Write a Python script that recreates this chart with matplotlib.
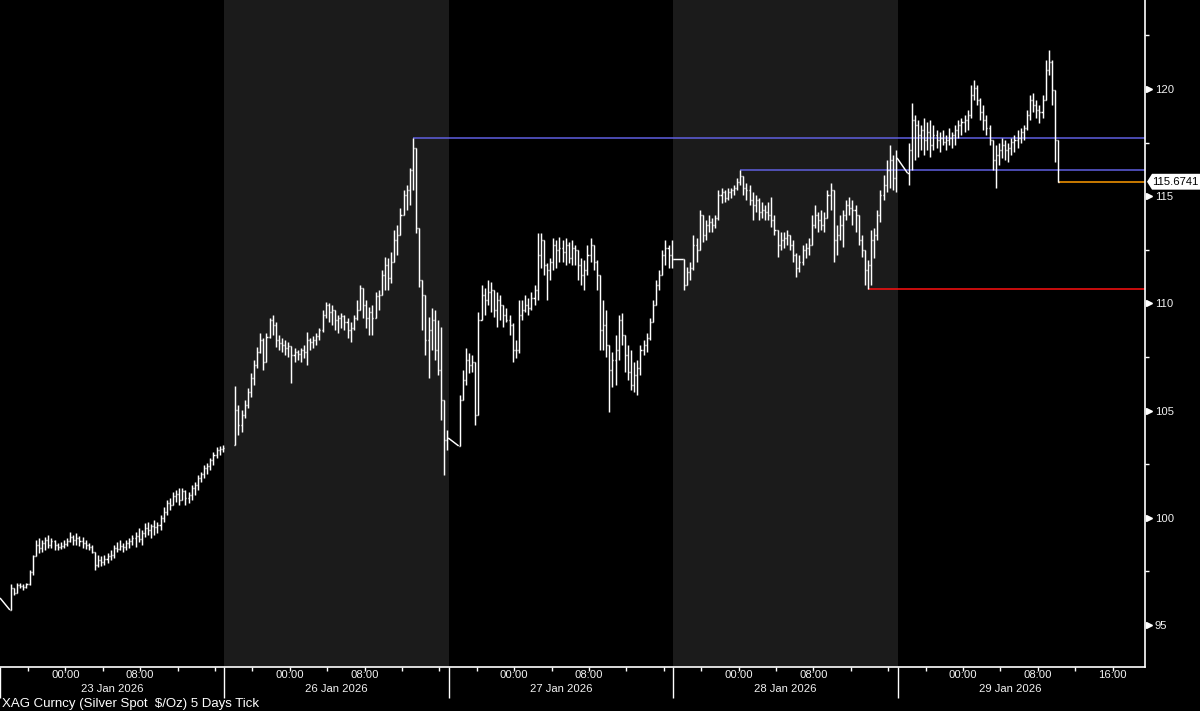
import matplotlib
matplotlib.use("Agg")
import matplotlib.pyplot as plt
from matplotlib.collections import LineCollection
from matplotlib.patches import Polygon

plt.rcParams['font.family'] = ['Liberation Sans', 'DejaVu Sans']

# 20 minute bars, each session runs 18:00 -> 17:00
dates = ['23 Jan 2026', '26 Jan 2026', '27 Jan 2026', '28 Jan 2026', '29 Jan 2026']

close_23 = [96.73, 96.49, 96.87, 96.82, 96.77, 96.91, 97.47, 98.22, 98.73, 98.59,
            98.82, 98.96, 98.73, 98.92, 98.73, 98.64, 98.68, 98.78, 98.92, 99.10,
            98.96, 99.06, 98.92, 98.82, 98.73, 98.64, 98.40, 97.80, 98.03, 97.94,
            98.08, 98.22, 98.26, 98.59, 98.54, 98.68, 98.64, 98.82, 98.92, 99.06,
            99.15, 99.01, 99.29, 99.52, 99.43, 99.62, 99.57, 99.66, 99.99, 100.27,
            100.69, 100.60, 101.02, 101.11, 100.83, 101.25, 100.92, 101.06, 101.39, 101.53,
            101.86, 102.04, 102.32, 102.42, 102.70, 102.93, 103.16, 103.21, 103.26]
high_23 = [96.91, 96.73, 96.96, 96.96, 96.91, 96.96, 97.57, 98.26, 98.96, 99.06,
           98.96, 99.10, 99.20, 99.06, 98.96, 98.82, 98.87, 98.96, 99.06, 99.34,
           99.20, 99.29, 99.15, 99.10, 98.96, 98.82, 98.73, 98.40, 98.26, 98.22,
           98.26, 98.36, 98.50, 98.73, 98.87, 98.96, 98.82, 98.96, 99.06, 99.20,
           99.34, 99.52, 99.43, 99.76, 99.80, 99.71, 99.90, 99.80, 100.13, 100.50,
           100.83, 100.92, 101.20, 101.30, 101.39, 101.39, 101.30, 101.20, 101.53, 101.67,
           102.00, 102.14, 102.46, 102.56, 102.79, 103.07, 103.30, 103.35, 103.40]
low_23 = [95.70, 96.40, 96.54, 96.73, 96.63, 96.73, 96.87, 97.33, 98.22, 98.36,
          98.40, 98.50, 98.59, 98.59, 98.50, 98.50, 98.54, 98.59, 98.68, 98.87,
          98.73, 98.73, 98.68, 98.59, 98.54, 98.50, 98.36, 97.57, 97.71, 97.75,
          97.80, 97.89, 98.03, 98.12, 98.40, 98.50, 98.40, 98.50, 98.59, 98.73,
          98.64, 98.87, 98.73, 99.10, 99.20, 99.06, 99.20, 99.29, 99.43, 99.80,
          100.13, 100.36, 100.60, 100.74, 100.60, 100.83, 100.60, 100.69, 100.83, 101.06,
          101.30, 101.67, 101.86, 102.04, 102.23, 102.46, 102.79, 102.93, 103.07]

close_26 = [105.03, 104.33, 104.79, 105.26, 105.87, 106.52, 107.13, 107.74, 108.29, 107.27,
            108.43, 109.23, 108.99, 108.29, 108.15, 108.06, 107.92, 108.01, 107.59, 107.74,
            107.64, 107.83, 107.74, 108.29, 108.20, 108.29, 108.48, 108.76, 109.46, 109.93,
            109.60, 109.69, 109.23, 109.32, 109.41, 109.13, 108.76, 108.85, 109.32, 109.69,
            110.72, 109.93, 109.32, 109.60, 109.32, 110.35, 110.39, 111.33, 111.79, 111.19,
            111.93, 112.96, 113.19, 114.12, 115.06, 115.29, 116.22, 117.25, 113.52, 111.09,
            110.39, 108.29, 108.76, 109.23, 107.83, 106.89, 105.49, 103.63, 103.72]
high_26 = [106.15, 105.26, 105.03, 105.49, 106.05, 106.75, 107.36, 107.97, 108.62, 108.39,
           108.62, 109.32, 109.46, 109.13, 108.53, 108.39, 108.29, 108.20, 107.83, 107.92,
           107.83, 107.92, 108.06, 108.67, 108.39, 108.48, 108.62, 108.85, 109.69, 110.07,
           110.02, 109.93, 109.55, 109.46, 109.55, 109.46, 109.32, 109.13, 109.46, 110.16,
           110.86, 110.72, 110.16, 109.83, 109.93, 110.53, 110.63, 111.56, 112.16, 112.12,
           112.40, 113.42, 113.66, 114.45, 115.29, 115.52, 116.31, 117.71, 116.08, 113.33,
           110.95, 110.07, 109.37, 109.79, 109.69, 109.23, 108.90, 104.56, 104.10]
low_26 = [103.40, 103.86, 104.00, 104.65, 105.12, 105.64, 106.19, 106.99, 107.69, 106.89,
          108.06, 108.39, 108.53, 107.97, 107.83, 107.74, 107.59, 107.50, 106.29, 107.27,
          107.36, 107.27, 107.45, 107.13, 107.83, 107.92, 108.06, 108.29, 108.67, 109.32,
          109.13, 108.99, 108.76, 108.62, 108.85, 108.76, 108.39, 108.20, 108.76, 109.23,
          109.93, 109.32, 108.85, 108.53, 108.53, 109.32, 109.69, 110.39, 110.63, 110.63,
          110.95, 111.93, 112.26, 113.80, 114.36, 114.36, 114.59, 115.29, 113.28, 110.77,
          108.76, 107.59, 106.52, 107.83, 107.36, 106.66, 104.56, 102.00, 103.16]

close_27 = [105.49, 106.43, 107.36, 107.13, 107.27, 104.79, 109.23, 110.39, 110.16, 110.53,
            110.63, 109.69, 110.16, 109.93, 109.46, 109.23, 108.99, 107.83, 107.83, 109.46,
            109.69, 109.93, 109.79, 110.25, 110.63, 112.26, 112.96, 111.79, 111.56, 111.93,
            112.72, 112.49, 112.59, 112.40, 112.72, 112.12, 112.59, 112.49, 111.79, 111.33,
            111.56, 112.26, 112.72, 111.93, 111.33, 108.76, 108.99, 108.06, 106.89, 107.36,
            107.83, 109.23, 108.53, 107.59, 106.80, 106.19, 106.66, 106.99, 107.83, 108.06,
            108.39, 109.13, 109.93, 110.86, 111.33, 112.26, 112.59, 112.26, 112.07]
high_27 = [105.73, 106.89, 107.92, 107.69, 107.59, 107.22, 109.60, 110.86, 110.72, 111.09,
           111.00, 110.53, 110.53, 110.39, 109.93, 109.79, 109.46, 109.09, 108.29, 110.16,
           110.16, 110.39, 110.25, 110.53, 110.86, 113.28, 113.28, 112.72, 111.89, 112.12,
           113.05, 112.96, 113.10, 112.96, 113.05, 112.87, 112.96, 112.72, 112.26, 112.12,
           112.02, 112.72, 113.05, 112.59, 112.02, 111.19, 110.16, 109.69, 107.83, 107.74,
           108.53, 109.46, 109.55, 108.53, 108.06, 107.83, 107.27, 107.36, 108.06, 108.29,
           108.62, 109.32, 110.16, 111.09, 111.56, 112.49, 112.96, 112.72, 112.96]
low_27 = [103.35, 105.49, 106.19, 106.75, 106.80, 104.33, 104.79, 109.23, 109.46, 109.93,
          109.60, 109.37, 108.90, 109.23, 108.90, 109.13, 108.53, 107.27, 107.45, 107.69,
          109.23, 109.60, 109.46, 109.69, 109.93, 110.16, 111.65, 111.33, 110.16, 111.09,
          111.56, 111.65, 111.93, 111.93, 111.79, 111.89, 111.79, 111.79, 111.09, 110.86,
          110.63, 111.33, 111.93, 111.56, 110.63, 107.83, 107.83, 107.50, 104.93, 106.10,
          106.19, 107.36, 108.06, 106.80, 106.43, 105.96, 105.87, 105.73, 106.66, 107.59,
          107.74, 108.29, 109.13, 109.93, 110.63, 111.33, 111.79, 111.65, 111.65]

close_28 = [110.86, 111.47, 111.65, 112.72, 112.49, 114.12, 113.19, 113.66, 113.80, 113.66,
            113.98, 115.06, 115.20, 114.92, 115.20, 115.29, 115.38, 115.66, 115.94, 115.38,
            115.29, 114.82, 114.59, 114.82, 114.26, 114.36, 114.26, 114.12, 113.89, 113.42,
            112.72, 112.96, 113.05, 113.19, 112.72, 112.26, 111.65, 111.93, 112.49, 112.59,
            112.72, 113.66, 114.12, 113.89, 113.66, 113.98, 115.06, 115.29, 112.96, 113.19,
            113.66, 114.12, 114.59, 114.45, 114.36, 114.12, 112.96, 112.49, 111.56, 111.79,
            112.96, 113.19, 114.12, 115.06, 115.52, 116.22, 116.69, 115.85, 116.78]
high_28 = [112.07, 111.70, 111.93, 113.19, 113.05, 114.36, 114.03, 113.89, 114.12, 113.98,
           114.12, 115.29, 115.38, 115.29, 115.38, 115.38, 115.52, 115.85, 116.22, 115.76,
           115.62, 115.52, 115.20, 115.06, 114.92, 114.73, 114.59, 114.73, 114.96, 114.12,
           113.05, 113.33, 113.33, 113.42, 113.19, 112.96, 112.35, 112.26, 112.72, 112.82,
           113.05, 114.12, 114.59, 114.26, 114.36, 114.26, 115.29, 115.62, 114.82, 113.66,
           114.12, 114.36, 114.82, 114.96, 114.82, 114.59, 113.98, 113.19, 112.49, 112.02,
           113.42, 113.52, 114.36, 115.29, 115.99, 116.69, 117.39, 116.92, 117.15]
low_28 = [110.63, 110.86, 111.09, 111.56, 111.93, 112.72, 112.86, 112.96, 113.33, 113.33,
          113.52, 113.89, 114.68, 114.73, 114.82, 114.92, 115.06, 115.29, 115.52, 115.06,
          114.82, 114.59, 113.89, 114.26, 113.89, 113.98, 113.89, 113.89, 113.56, 113.19,
          112.16, 112.49, 112.59, 112.72, 112.49, 111.93, 111.23, 111.47, 111.79, 112.12,
          112.26, 112.72, 113.52, 113.33, 113.42, 113.33, 114.12, 114.36, 111.93, 112.26,
          112.96, 112.63, 113.89, 114.12, 113.66, 113.33, 112.72, 112.16, 110.86, 110.66,
          110.86, 112.12, 112.96, 113.80, 114.82, 115.20, 115.38, 115.29, 115.20]

close_29 = [117.15, 118.55, 118.32, 117.85, 118.09, 117.62, 117.99, 117.39, 117.85, 117.62,
            117.71, 117.53, 117.62, 117.71, 117.85, 118.09, 118.32, 118.46, 118.55, 118.79,
            119.72, 120.05, 119.49, 118.93, 118.55, 118.18, 117.62, 116.69, 116.92, 117.15,
            117.39, 117.15, 117.25, 117.53, 117.62, 117.71, 117.99, 118.18, 118.79, 119.49,
            119.25, 119.02, 118.93, 119.49, 120.89, 121.26, 119.95, 117.62, 115.6741]
high_29 = [117.48, 119.35, 118.79, 118.55, 118.32, 118.65, 118.46, 118.55, 118.32, 118.09,
           117.99, 118.09, 117.85, 118.18, 117.99, 118.32, 118.55, 118.65, 118.79, 119.02,
           120.19, 120.42, 120.19, 119.58, 119.25, 118.79, 118.32, 117.62, 117.39, 117.48,
           117.71, 117.62, 117.48, 117.71, 117.85, 118.09, 118.18, 118.32, 119.02, 119.72,
           119.81, 119.49, 119.25, 119.72, 121.35, 121.80, 121.35, 119.95, 117.62]
low_29 = [115.52, 116.22, 116.69, 116.83, 117.15, 116.92, 117.15, 116.83, 117.15, 117.25,
          117.06, 117.39, 117.15, 117.39, 117.25, 117.39, 117.71, 117.85, 117.99, 118.09,
          118.65, 119.49, 119.25, 118.55, 118.09, 117.85, 117.39, 116.22, 115.38, 116.45,
          116.78, 116.69, 116.59, 116.92, 117.06, 117.25, 117.48, 117.62, 118.09, 118.55,
          118.93, 118.65, 118.41, 118.65, 119.49, 120.65, 119.25, 116.59, 115.67]

first_open = [95.70, 103.40, 103.35, 112.07, 116.08]   # open of first bar per session
joined = [True, False, True, True, True]                # line drawn across the break
prior_close = 96.26

last_price = 115.6741
# (level, session, bar) -> horizontal lines drawn from that bar to the right edge
levels = [(117.71, 1, 57, '#5f5fe0'), (116.22, 3, 18, '#5f5fe0'),
          (110.66, 3, 59, '#ff1010'), (last_price, 4, 48, '#ff9a00')]

sessions = [(close_23, high_23, low_23), (close_26, high_26, low_26),
            (close_27, high_27, low_27), (close_28, high_28, low_28),
            (close_29, high_29, low_29)]

PX_H = 9.35          # pixels per hour
X_MAX = 1145 / PX_H
TICK = 0.11          # open/close tick length in hours
FS = 8.1


def bar_x(s, i):
    return 24 * s + 1 + (i + 0.5) / 3


fig = plt.figure(figsize=(12, 7.11), dpi=100, facecolor='black')
ax = fig.add_axes([0, 44 / 711, 1145 / 1200, 667 / 711])
ax.set_facecolor('black')
ax.set_xlim(0, X_MAX)
ax.set_ylim(93.04, 124.15)

for d in (1, 3):
    ax.axvspan(24 * d, 24 * d + 24, color='#1b1b1b', lw=0, zorder=0)

segs = []
prev_c, prev_x = prior_close, -TICK
for s, (c, h, l) in enumerate(sessions):
    o = first_open[s]
    if joined[s]:
        segs.append([(prev_x + TICK, prev_c), (bar_x(s, 0) - TICK, o)])
    for i in range(len(c)):
        x = bar_x(s, i)
        segs.append([(x, min(l[i], o, c[i])), (x, max(h[i], o, c[i]))])
        segs.append([(x - TICK, o), (x, o)])
        segs.append([(x, c[i]), (x + TICK, c[i])])
        o = c[i]
    prev_c, prev_x = c[-1], bar_x(s, len(c) - 1)

ax.add_collection(LineCollection(segs, colors='white', linewidths=1.05, zorder=3))

for lvl, s, i, col in levels:
    ax.hlines(lvl, bar_x(s, i), X_MAX, colors=col, lw=1.1, zorder=2)

# axes frame
for side in ('left', 'top'):
    ax.spines[side].set_visible(False)
for side in ('right', 'bottom'):
    ax.spines[side].set_color('white')
    ax.spines[side].set_linewidth(1.2)

# y axis on the right
majors = [95, 100, 105, 110, 115, 120]
ax.yaxis.tick_right()
ax.set_yticks(majors)
ax.set_yticks([97.5, 102.5, 107.5, 112.5, 117.5, 122.5], minor=True)
ax.tick_params(axis='y', which='major', length=0, pad=7, labelsize=FS, labelcolor='#f2f2f2')
ax.tick_params(axis='y', which='minor', length=3, width=1, colors='white')
ytr = ax.get_yaxis_transform()
ax.plot([1 + 3.5 / 1145] * len(majors), majors, ls='none', marker='>', ms=5,
        color='white', transform=ytr, clip_on=False)

# last price box
hh = 0.37
ax.add_patch(Polygon([(1 + 2 / 1145, last_price), (1 + 7 / 1145, last_price + hh),
                      (1 + 56 / 1145, last_price + hh), (1 + 56 / 1145, last_price - hh),
                      (1 + 7 / 1145, last_price - hh)], closed=True, facecolor='white',
                     edgecolor='none', transform=ytr, clip_on=False))
ax.text(1 + 7 / 1145, last_price, f'{last_price:.4f}', transform=ytr, ha='left', va='center',
        fontsize=FS, color='black')

# x axis: day separators and 4 hour ticks
ax.set_xticks([24 * d for d in range(5)])
ax.set_xticks([24 * d + h for d in range(5) for h in (3, 7, 11, 15, 19, 23)], minor=True)
ax.tick_params(axis='x', which='major', length=22.5, width=1, colors='white', labelbottom=False)
ax.tick_params(axis='x', which='minor', length=3, width=1, colors='white')

xtr = ax.get_xaxis_transform()
for d, name in enumerate(dates):
    for h, lab in ((7, '00:00'), (15, '08:00')):
        ax.text(24 * d + h, -7.5 / 667, lab, transform=xtr, ha='center', va='center',
                fontsize=FS, color='#f2f2f2')
    ax.text(24 * d + 12, -21.5 / 667, name, transform=xtr, ha='center', va='center',
            fontsize=FS, color='#f2f2f2')
ax.text(24 * 4 + 23, -7.5 / 667, '16:00', transform=xtr, ha='center', va='center',
        fontsize=FS, color='#f2f2f2')

fig.text(2 / 1200, 1 - 704 / 711, 'XAG Curncy (Silver Spot  $/Oz) 5 Days Tick',
         ha='left', va='center', fontsize=9.5, color='white')

fig.savefig('out.png', dpi=100, facecolor='black')
